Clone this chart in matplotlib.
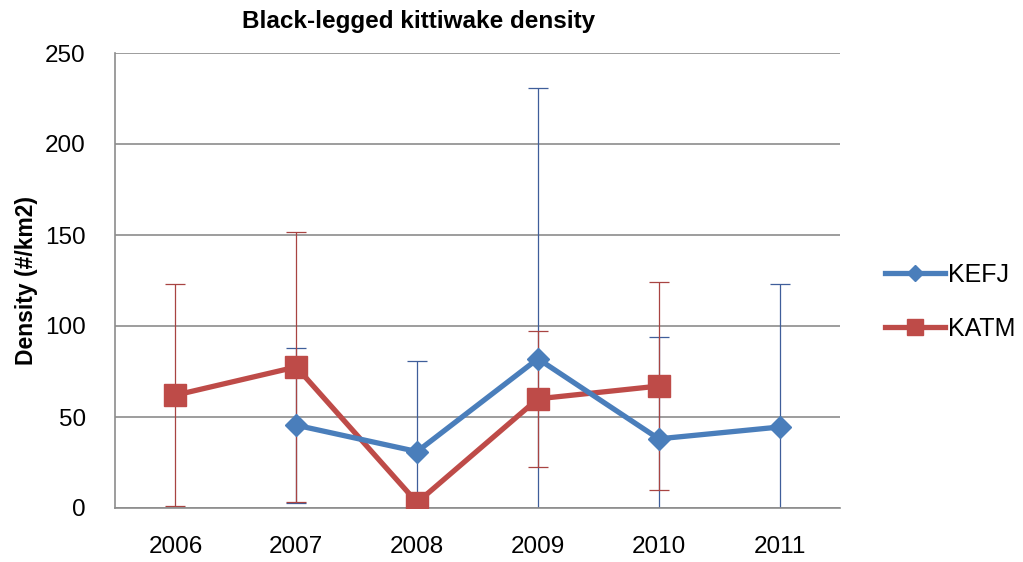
import numpy as np
import matplotlib
matplotlib.use("Agg")
import matplotlib.pyplot as plt

plt.rcParams['font.family'] = ['Liberation Sans', 'DejaVu Sans']

years = ["2006", "2007", "2008", "2009", "2010", "2011"]
kefj = [np.nan, 45.5, 31, 82, 38, 44.5]
kefj_err = [np.nan, 42.5, 50, 149, 56, 78.5]
katm = [62, 77.5, 3, 60, 67, np.nan]
katm_err = [61, 74, np.nan, 37.5, 57, np.nan]

blue = "#4A7EBB"
red = "#BE4B48"
grid = "#8C8C8C"

fig = plt.figure(figsize=(10.23, 5.62), dpi=100)
ax = fig.add_axes([115 / 1023, 54 / 562, 725 / 1023, 455 / 562])
x = np.arange(len(years))

# error bars sit behind the series lines
ax.errorbar(x, kefj, yerr=kefj_err, fmt="none", ecolor="#3F5E9A",
            elinewidth=0.9, capsize=7, capthick=0.9, zorder=2)
ax.errorbar(x, katm, yerr=katm_err, fmt="none", ecolor="#A84442",
            elinewidth=0.9, capsize=7, capthick=0.9, zorder=2.1)

ax.plot(x, katm, color=red, lw=3.8, marker="s", ms=16,
        markeredgecolor=red, label="KATM", zorder=3)
ax.plot(x, kefj, color=blue, lw=3.8, marker="D", ms=11,
        markeredgecolor=blue, label="KEFJ", zorder=4)

ax.set_xlim(-0.5, 5.5)
ax.set_ylim(0, 250)
ax.set_yticks(np.arange(0, 251, 50))
ax.set_xticks(x)
ax.set_xticklabels(years)
ax.yaxis.grid(True, color=grid, lw=1.2)
ax.set_axisbelow(True)
for s in ["top", "right"]:
    ax.spines[s].set_visible(False)
for s in ["left", "bottom"]:
    ax.spines[s].set_color(grid)
    ax.spines[s].set_linewidth(1.2)
ax.tick_params(axis="both", length=0, labelsize=17.5, colors="black")
ax.tick_params(axis="y", pad=21)
ax.tick_params(axis="x", pad=20)

ax.set_ylabel("Density (#/km2)", fontsize=16.5, fontweight="bold", labelpad=5)

fig.text(419 / 1023, 0.962, "Black-legged kittiwake density", ha="center",
         va="center", fontsize=17.5, fontweight="bold")

handles, labels = ax.get_legend_handles_labels()
leg = fig.legend(handles[::-1], labels[::-1], loc="center left",
                 bbox_to_anchor=(862 / 1023, 1 - 302 / 562), frameon=False,
                 fontsize=18, handlelength=2.4, handletextpad=0.15,
                 labelspacing=1.2)
for h in leg.legend_handles:
    h.set_markersize(h.get_markersize() * 0.75)

fig.savefig("out.png", dpi=100)
